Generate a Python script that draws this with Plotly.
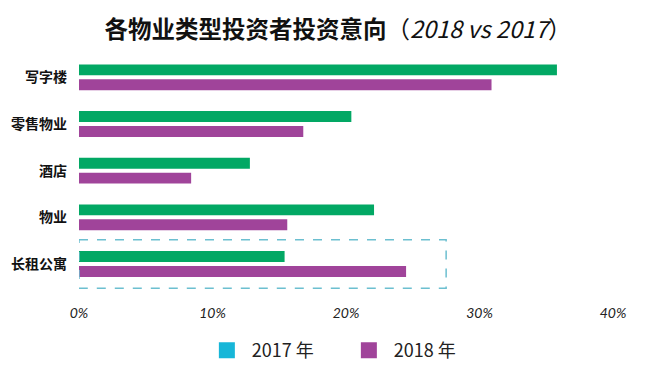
import plotly.graph_objects as go

categories = ["写字楼", "零售物业", "酒店", "物业", "长租公寓"]
values_2017 = [35.8, 20.4, 12.8, 22.1, 15.4]
values_2018 = [30.9, 16.8, 8.4, 15.6, 24.5]
x_tickvals = [0, 10, 20, 30, 40]
x_ticktext = ["0%", "10%", "20%", "30%", "40%"]
highlight_category = "长租公寓"
highlight_extent = 27.5

GREEN = "#02a864"
PURPLE = "#a0449a"
CYAN = "#17b6d8"
CJK = "Noto Sans CJK SC"

fig = go.Figure()
fig.add_trace(go.Bar(y=categories, x=values_2017, orientation="h", name="2017 年",
                     marker=dict(color=GREEN, line=dict(width=0)), showlegend=False))
fig.add_trace(go.Bar(y=categories, x=values_2018, orientation="h", name="2018 年",
                     marker=dict(color=PURPLE, line=dict(width=0)), showlegend=False))
# legend entries (reference legend uses a cyan swatch for 2017)
fig.add_trace(go.Scatter(y=[None], x=[None], mode="markers", name="2017 年",
                         marker=dict(color=CYAN, symbol="square", size=18), hoverinfo="skip"))
fig.add_trace(go.Scatter(y=[None], x=[None], mode="markers", name="2018 年",
                         marker=dict(color=PURPLE, symbol="square", size=18), hoverinfo="skip"))

idx = categories.index(highlight_category)
fig.add_shape(type="rect", xref="x", yref="y", x0=0, x1=highlight_extent,
              y0=idx - 0.52, y1=idx + 0.52,
              line=dict(color="#6cbfd0", width=1.5, dash="dash"), fillcolor="rgba(0,0,0,0)")

# page body has an 8px margin, so the figure is 8px smaller than the window
fig.update_layout(
    width=642, height=357,
    margin=dict(l=71, r=37, t=46, b=76, autoexpand=False),
    paper_bgcolor="white", plot_bgcolor="white",
    barmode="group", bargap=0.36, bargroupgap=0.27,
    title=dict(text="<b>各物业类型投资者投资意向</b>（<i>2018 vs 2017</i>）",
               x=0.514, xanchor="center", y=0.938, yanchor="middle",
               font=dict(family=CJK, size=23.5, color="#111111")),
    font=dict(family=CJK, color="#111111"),
    legend=dict(orientation="h", x=0.496, xanchor="center", y=-0.262, yanchor="middle",
                font=dict(family=CJK, size=18, color="#222222"),
                itemwidth=40, entrywidth=87, traceorder="normal"),
    showlegend=True,
)
fig.update_xaxes(range=[0, 40], tickvals=x_tickvals,
                 ticktext=["<i>%s</i>" % t for t in x_ticktext],
                 showgrid=False, zeroline=False, showline=False, ticks="",
                 tickfont=dict(family="Lato", size=14, color="#222222"),
                 ticklabelstandoff=14, automargin=False)
fig.update_yaxes(categoryorder="array", categoryarray=categories, autorange="reversed",
                 showgrid=False, zeroline=False, showline=False, ticks="",
                 tickfont=dict(family=CJK, size=14, color="#111111"),
                 tickvals=categories, ticktext=["<b>%s</b>" % c for c in categories],
                 ticklabelstandoff=11, automargin=False)

fig.write_html("out.html")
